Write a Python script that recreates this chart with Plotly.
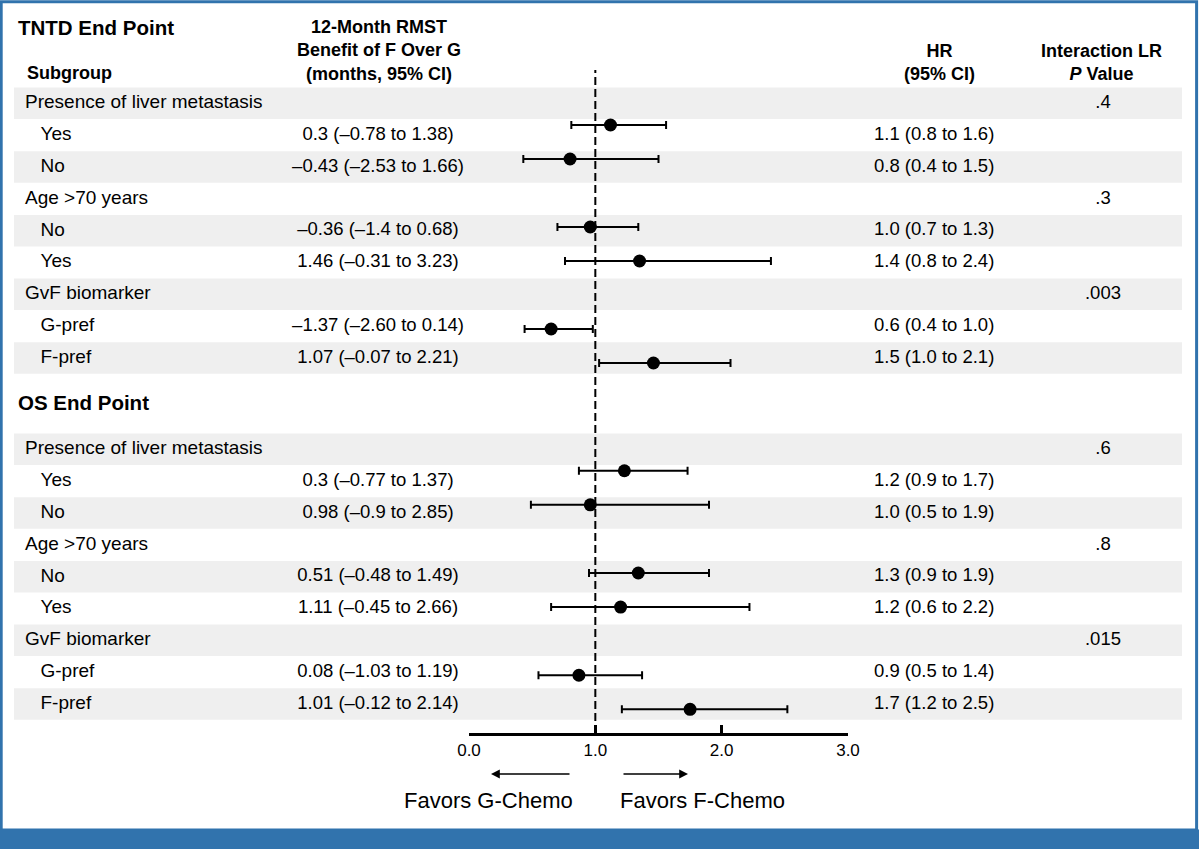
import plotly.graph_objects as go

# 1. DATA
subgroups = ["Presence of liver metastasis", "Yes", "No",
             "Age >70 years", "No", "Yes",
             "GvF biomarker", "G-pref", "F-pref"]
is_header = [True, False, False, True, False, False, True, False, False]

tntd_rmst = ["", "0.3 (–0.78 to 1.38)", "–0.43 (–2.53 to 1.66)",
             "", "–0.36 (–1.4 to 0.68)", "1.46 (–0.31 to 3.23)",
             "", "–1.37 (–2.60 to 0.14)", "1.07 (–0.07 to 2.21)"]
tntd_hr_text = ["", "1.1 (0.8 to 1.6)", "0.8 (0.4 to 1.5)",
                "", "1.0 (0.7 to 1.3)", "1.4 (0.8 to 2.4)",
                "", "0.6 (0.4 to 1.0)", "1.5 (1.0 to 2.1)"]
tntd_p = [".4", "", "", ".3", "", "", ".003", "", ""]
tntd_hr = [None, 1.12, 0.80, None, 0.96, 1.35, None, 0.65, 1.46]
tntd_lo = [None, 0.81, 0.43, None, 0.70, 0.76, None, 0.44, 1.03]
tntd_hi = [None, 1.56, 1.50, None, 1.34, 2.39, None, 0.98, 2.07]

os_rmst = ["", "0.3 (–0.77 to 1.37)", "0.98 (–0.9 to 2.85)",
           "", "0.51 (–0.48 to 1.49)", "1.11 (–0.45 to 2.66)",
           "", "0.08 (–1.03 to 1.19)", "1.01 (–0.12 to 2.14)"]
os_hr_text = ["", "1.2 (0.9 to 1.7)", "1.0 (0.5 to 1.9)",
              "", "1.3 (0.9 to 1.9)", "1.2 (0.6 to 2.2)",
              "", "0.9 (0.5 to 1.4)", "1.7 (1.2 to 2.5)"]
os_p = [".6", "", "", ".8", "", "", ".015", "", ""]
os_hr = [None, 1.23, 0.96, None, 1.34, 1.20, None, 0.87, 1.75]
os_lo = [None, 0.87, 0.49, None, 0.95, 0.65, None, 0.55, 1.21]
os_hi = [None, 1.73, 1.90, None, 1.90, 2.22, None, 1.37, 2.52]

axis_ticks = [0, 1, 2, 3]
axis_labels = ["0.0", "1.0", "2.0", "3.0"]

# 2. LAYOUT CONSTANTS (page is 1199 x 849, table axes work in pixels)
W, H = 1199, 849
FONT = "Liberation Sans, Arial, Helvetica, sans-serif"
GRAY = "#efefef"
BLUE = "#3173ad"
PITCH = 31.85
X0_PX, X3_PX = 469, 848  # pixel span of the 0..3 HR axis

sections = [
    dict(title="TNTD End Point", title_y=27, top=87.5,
         rmst=tntd_rmst, hr_text=tntd_hr_text, p=tntd_p,
         hr=tntd_hr, lo=tntd_lo, hi=tntd_hi, xa="x2", ya="y2"),
    dict(title="OS End Point", title_y=402, top=433.5,
         rmst=os_rmst, hr_text=os_hr_text, p=os_p,
         hr=os_hr, lo=os_lo, hi=os_hi, xa="x3", ya="y3"),
]

fig = go.Figure()
shapes = []
annotations = []
txt_font = dict(family=FONT, size=18.5, color="black")
label_font = dict(family=FONT, size=19, color="black")

for sec in sections:
    centers = [sec["top"] + PITCH * i + PITCH / 2 for i in range(len(subgroups))]

    # gray bands on every other row
    for i in range(0, len(subgroups), 2):
        shapes.append(dict(type="rect", xref="x", yref="y", x0=14, x1=1182,
                           y0=sec["top"] + PITCH * i, y1=sec["top"] + PITCH * i + 31.5,
                           fillcolor=GRAY, line=dict(width=0), layer="below"))

    # subgroup labels
    hx = [25 if h else 40.5 for h in is_header]
    fig.add_trace(go.Scatter(x=hx, y=centers, mode="text", text=subgroups,
                             textposition="middle right", textfont=label_font,
                             xaxis="x", yaxis="y", hoverinfo="skip", showlegend=False))
    # RMST column
    fig.add_trace(go.Scatter(x=[378] * len(centers), y=centers, mode="text", text=sec["rmst"],
                             textposition="middle center", textfont=txt_font,
                             xaxis="x", yaxis="y", hoverinfo="skip", showlegend=False))
    # HR column
    fig.add_trace(go.Scatter(x=[874] * len(centers), y=centers, mode="text", text=sec["hr_text"],
                             textposition="middle right", textfont=txt_font,
                             xaxis="x", yaxis="y", hoverinfo="skip", showlegend=False))
    # P value column
    fig.add_trace(go.Scatter(x=[1103] * len(centers), y=centers, mode="text", text=sec["p"],
                             textposition="middle center", textfont=txt_font,
                             xaxis="x", yaxis="y", hoverinfo="skip", showlegend=False))

    # forest markers
    rows = [i for i, v in enumerate(sec["hr"]) if v is not None]
    hr = [sec["hr"][i] for i in rows]
    lo = [sec["lo"][i] for i in rows]
    hi = [sec["hi"][i] for i in rows]
    fig.add_trace(go.Scatter(
        x=hr, y=rows, mode="markers", xaxis=sec["xa"], yaxis=sec["ya"],
        marker=dict(size=13, color="black"),
        error_x=dict(type="data", symmetric=False,
                     array=[h - m for h, m in zip(hi, hr)],
                     arrayminus=[m - l for m, l in zip(hr, lo)],
                     color="black", thickness=2, width=4),
        showlegend=False, hoverinfo="x"))

    annotations.append(dict(text="<b>" + sec["title"] + "</b>", x=16, y=sec["title_y"],
                            xref="x", yref="y", xanchor="left", yanchor="middle",
                            showarrow=False, font=dict(family=FONT, size=20.5, color="black")))

# 3. COLUMN HEADERS
hdr_font = dict(family=FONT, size=18, color="black")
annotations += [
    dict(text="<b>Subgroup</b>", x=25, y=73, xanchor="left"),
    dict(text="<b>12-Month RMST<br>Benefit of F Over G<br>(months, 95% CI)</b>", x=379, y=50),
    dict(text="<b>HR<br>(95% CI)</b>", x=939, y=62),
    dict(text="<b>Interaction LR<br><i>P</i> Value</b>", x=1101, y=62),
]
for a in annotations[-4:]:
    a.update(xref="x", yref="y", showarrow=False, font=hdr_font, yanchor="middle")
    a.setdefault("xanchor", "center")

# 4. FAVORS ARROWS + LABELS
big_font = dict(family=FONT, size=22, color="black")
annotations += [
    dict(x=491, y=774, ax=571, ay=774, xref="x", yref="y", axref="x", ayref="y",
         text="", showarrow=True, arrowhead=2, arrowsize=1.1, arrowwidth=1.6, arrowcolor="black"),
    dict(x=688, y=774, ax=622, ay=774, xref="x", yref="y", axref="x", ayref="y",
         text="", showarrow=True, arrowhead=2, arrowsize=1.1, arrowwidth=1.6, arrowcolor="black"),
    dict(text="Favors G-Chemo", x=488, y=800, xref="x", yref="y", showarrow=False, font=big_font),
    dict(text="Favors F-Chemo", x=702, y=800, xref="x", yref="y", showarrow=False, font=big_font),
]

# reference line at HR = 1 through both panels
shapes.append(dict(type="line", xref="x3", yref="paper", x0=1, x1=1,
                   y0=1 - 733 / H, y1=1 - 70 / H,
                   line=dict(color="black", width=2, dash="8px,4px"), layer="above"))
# blue frame and footer bar
shapes.append(dict(type="rect", xref="paper", yref="paper", x0=0.001, x1=0.998,
                   y0=1 - 830 / H, y1=0.998,
                   line=dict(color=BLUE, width=3), fillcolor="rgba(0,0,0,0)", layer="above"))
shapes.append(dict(type="rect", xref="paper", yref="paper", x0=0, x1=1, y0=0, y1=1 - 829.5 / H,
                   line=dict(width=0), fillcolor=BLUE, layer="above"))

xdom = [X0_PX / W, X3_PX / W]
hidden = dict(visible=False, showgrid=False, zeroline=False, fixedrange=True, automargin=False)
fig.update_layout(
    width=W, height=H, autosize=False,
    margin=dict(l=0, r=0, t=0, b=0, pad=0, autoexpand=False),
    paper_bgcolor="white", plot_bgcolor="rgba(0,0,0,0)",
    showlegend=False,
    font=dict(family=FONT, color="black"),
    xaxis=dict(range=[0, W], domain=[0, 1], anchor="y", **hidden),
    yaxis=dict(range=[H, 0], domain=[0, 1], anchor="x", **hidden),
    xaxis2=dict(range=[0, 3], domain=xdom, anchor="y2", **hidden),
    yaxis2=dict(range=[8.5, -0.5], domain=[1 - 380 / H, 1 - 74 / H], anchor="x2", **hidden),
    xaxis3=dict(range=[0, 3], domain=xdom, anchor="y3", showgrid=False, zeroline=False,
                tickvals=axis_ticks, ticktext=axis_labels, ticks="inside", ticklen=8,
                tickwidth=2.5, tickcolor="black", showline=True, linecolor="black", linewidth=2.5,
                tickfont=dict(family=FONT, size=17, color="black"), fixedrange=True,
                automargin=False),
    yaxis3=dict(range=[8.7, -0.5], domain=[1 - 733.2 / H, 1 - 419.6 / H], anchor="x3", **hidden),
    shapes=shapes,
    annotations=annotations,
)

fig.write_html("out.html", config={"displayModeBar": False},
               post_script="document.body.style.margin='0';")
